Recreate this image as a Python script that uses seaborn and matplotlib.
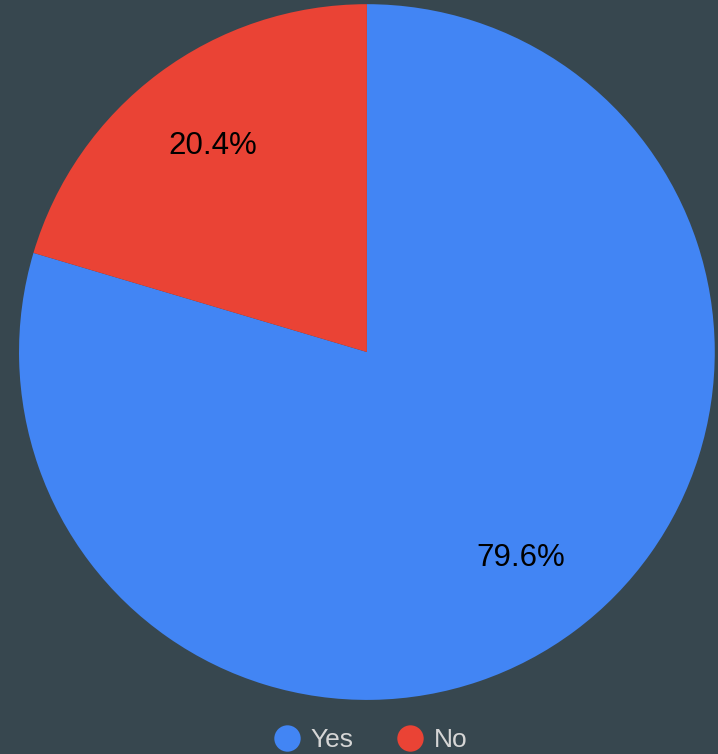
import matplotlib.pyplot as plt
import seaborn as sns
from matplotlib.lines import Line2D

LABELS = ["Yes", "No"]
VALUES = [79.6, 20.4]
COLORS = ["#4285f4", "#ea4335"]
BG = "#37474f"


def main() -> None:
    sns.set_theme(style="white")
    plt.rcParams["font.family"] = ["Liberation Sans", "DejaVu Sans"]
    palette = sns.color_palette(COLORS)

    fig = plt.figure(figsize=(7.18, 7.54), dpi=100, facecolor=BG)
    ax = fig.add_axes([0.0265, 0.0716, 0.969, 0.923])
    ax.set_facecolor(BG)
    ax.pie(
        VALUES,
        colors=palette,
        startangle=90,
        counterclock=False,
        autopct="%.1f%%",
        pctdistance=0.74,
        wedgeprops={"linewidth": 0},
        textprops={"fontsize": 22.5, "color": "black"},
    )
    ax.set_aspect("equal")
    ax.set_xlim(-1, 1)
    ax.set_ylim(-1, 1)
    ax.axis("off")

    handles = [
        Line2D([], [], marker="o", linestyle="", markersize=19,
               markerfacecolor=c, markeredgewidth=0)
        for c in palette
    ]
    fig.legend(
        handles, LABELS, loc="center", bbox_to_anchor=(0.515, 1 - 740 / 754),
        ncol=2, frameon=False, fontsize=19, labelcolor="#d6d6d6",
        handletextpad=0.35, columnspacing=1.6, handlelength=1.1,
    )
    fig.savefig("out.png", dpi=100, facecolor=BG)


if __name__ == "__main__":
    main()
